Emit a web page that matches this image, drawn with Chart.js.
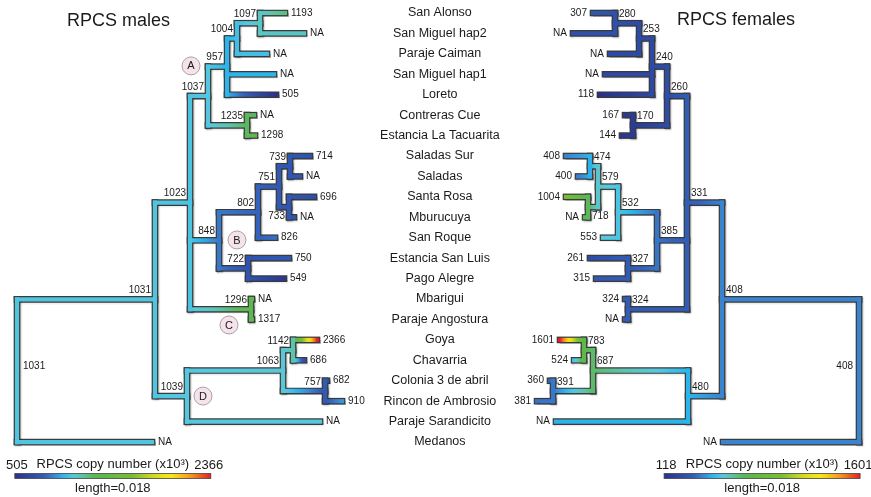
<!DOCTYPE html>
<html>
<head>
<meta charset="utf-8">
<script src="https://cdn.jsdelivr.net/npm/chart.js@4.4.1/dist/chart.umd.min.js"></script>
<style>
  html, body { margin: 0; padding: 0; background: #fff; }
  #wrap { width: 871px; height: 497px; position: relative; }
</style>
</head>
<body>
<div id="wrap"><canvas id="treeChart"></canvas></div>
<script>
// sampling sites, top to bottom (shared by both trees)
const taxa = ['San Alonso', 'San Miguel hap2', 'Paraje Caiman', 'San Miguel hap1', 'Loreto',
  'Contreras Cue', 'Estancia La Tacuarita', 'Saladas Sur', 'Saladas', 'Santa Rosa', 'Mburucuya',
  'San Roque', 'Estancia San Luis', 'Pago Alegre', 'Mbarigui', 'Paraje Angostura', 'Goya',
  'Chavarria', 'Colonia 3 de abril', 'Rincon de Ambrosio', 'Paraje Sarandicito', 'Medanos'];

// males: RPCS copy number at tips (x10^3), null = NA
const maleTipValues = [1193, null, null, null, 505, null, 1298, 714, null, 696, null,
  826, 750, 549, null, 1317, 2366, 686, 682, 910, null, null];
// males: tip distance from root
const maleTipDepths = [0.02461, 0.02636, 0.02296, 0.02360, 0.02379, 0.02177, 0.02186, 0.02691,
  0.02599, 0.02728, 0.02544, 0.02370, 0.02498, 0.02452, 0.02158, 0.02158, 0.02755, 0.02636,
  0.02847, 0.02985, 0.02783, 0.01240];
// males: internal nodes [id, children (tip index or node id), value, depth]
const maleNodes = [
  ['m1097', [0, 1], 1097, 0.02232],
  ['m1004', ['m1097', 2], 1004, 0.02020],
  ['m957', ['m1004', 3, 4], 957, 0.01929],
  ['m1235', [5, 6], 1235, 0.02112],
  ['m1037', ['m957', 'm1235'], 1037, 0.01754],
  ['m739', [7, 8], 739, 0.02507],
  ['m733', [9, 10], 733, 0.02498],
  ['m751', ['m739', 'm733'], 751, 0.02406],
  ['m802', ['m751', 11], 802, 0.02213],
  ['m722', [12, 13], 722, 0.02122],
  ['m848', ['m802', 'm722'], 848, 0.01855],
  ['m1296', [14, 15], 1296, 0.02149],
  ['m1023', ['m1037', 'm848', 'm1296'], 1023, 0.01589],
  ['m1142', [16, 17], 1142, 0.02535],
  ['m757', [18, 19], 757, 0.02829],
  ['m1063', ['m1142', 'm757'], 1063, 0.02443],
  ['m1039', ['m1063', 20], 1039, 0.01561],
  ['m1031', ['m1023', 'm1039'], 1031, 0.01267],
  ['mRoot', ['m1031', 21], 1031, 0]
];
const maleRange = [505, 2366];

// females
const femaleTipValues = [307, null, null, null, 118, 167, 144, 408, 400, 1004, null,
  553, 261, 315, 324, null, 1601, 524, 360, 381, null, null];
const femaleTipDepths = [0.02443, 0.02627, 0.02287, 0.02333, 0.02379, 0.02149, 0.02177, 0.02691,
  0.02581, 0.02691, 0.02516, 0.02351, 0.02471, 0.02415, 0.02149, 0.02149, 0.02746, 0.02617,
  0.02838, 0.02957, 0.02783, 0.01249];
const femaleNodes = [
  ['f280', [0, 1], 280, 0.02241],
  ['f253', ['f280', 2], 253, 0.02020],
  ['f240', ['f253', 3, 4], 240, 0.01901],
  ['f170', [5, 6], 170, 0.02076],
  ['f260', ['f240', 'f170'], 260, 0.01763],
  ['f474', [7, 8], 474, 0.02471],
  ['f718', [9, 10], 718, 0.02489],
  ['f579', ['f474', 'f718'], 579, 0.02397],
  ['f532', ['f579', 11], 532, 0.02213],
  ['f327', [12, 13], 327, 0.02122],
  ['f385', ['f532', 'f327'], 385, 0.01855],
  ['f324', [14, 15], 324, 0.02122],
  ['f331', ['f260', 'f385', 'f324'], 331, 0.01580],
  ['f783', [16, 17], 783, 0.02526],
  ['f391', [18, 19], 391, 0.02810],
  ['f687', ['f783', 'f391'], 687, 0.02443],
  ['f480', ['f687', 20], 480, 0.01570],
  ['f408', ['f331', 'f480'], 408, 0.01258],
  ['fRoot', ['f408', 21], 408, 0]
];
const femaleRange = [118, 1601];

// node labels that sit under their branch instead of above
const labelsBelow = ['m733', 'f718'];

// clade markers on the male tree
const cladeLetters = ['A', 'B', 'C', 'D'];
const cladeDepths = [0.01598, 0.02020, 0.01947, 0.01708];
const cladeRows = [2.59, 11.11, 15.27, 18.75];

const barLength = 0.018;
const FONT = 'Arial, "Liberation Sans", Helvetica, sans-serif';

// colour ramp for copy number
const ramp = [
  [0.00, [40, 50, 140]], [0.10, [46, 78, 168]], [0.16, [52, 98, 186]], [0.20, [58, 135, 210]],
  [0.245, [44, 182, 236]], [0.29, [88, 200, 222]], [0.34, [92, 196, 176]], [0.39, [92, 184, 96]],
  [0.45, [94, 184, 72]], [0.60, [120, 190, 50]], [0.72, [220, 222, 30]], [0.80, [248, 230, 24]],
  [0.90, [243, 150, 30]], [1.00, [228, 30, 36]]
];
function rampColor(t) {
  t = Math.max(0, Math.min(1, t));
  for (let i = 1; i < ramp.length; i++) {
    if (t <= ramp[i][0]) {
      const [t0, c0] = ramp[i - 1], [t1, c1] = ramp[i];
      const f = (t - t0) / (t1 - t0);
      const c = c0.map((v, k) => Math.round(v + (c1[k] - v) * f));
      return `rgb(${c[0]},${c[1]},${c[2]})`;
    }
  }
  return 'rgb(228,30,36)';
}

function buildTree(nodes, tipDepths, tipValues, range, axisId) {
  const col = (v) => rampColor((v - range[0]) / (range[1] - range[0]));
  const info = {};
  const segs = [];
  const labels = [];
  const rootId = nodes[nodes.length - 1][0];
  nodes.forEach(([id, kids, value, depth]) => {
    const rows = kids.map((k) => (typeof k === 'number' ? k : info[k].row));
    const row = (Math.min(...rows) + Math.max(...rows)) / 2;
    info[id] = { row, value, depth };
    segs.push({ x0: depth, x1: depth, y0: Math.min(...rows), y1: Math.max(...rows), v0: value, v1: value });
    kids.forEach((k) => {
      let child;
      if (typeof k === 'number') {
        child = { row: k, depth: tipDepths[k], value: tipValues[k] ?? value };
        labels.push({ kind: 'tip', x: tipDepths[k], y: k, text: tipValues[k] == null ? 'NA' : String(tipValues[k]) });
      } else {
        child = info[k];
      }
      segs.push({ x0: depth, x1: child.depth, y0: child.row, y1: child.row, v0: value, v1: child.value });
    });
    labels.push({
      kind: id === rootId ? 'root' : 'node', x: depth, y: row, text: String(value),
      below: labelsBelow.includes(id)
    });
  });

  const datasets = [];
  segs.forEach((s) => {
    const pts = [{ x: s.x0, y: s.y0 }, { x: s.x1, y: s.y1 }];
    datasets.push({
      data: pts, showLine: true, pointRadius: 0, borderWidth: 6.6, borderColor: '#3a3a3a',
      borderCapStyle: 'square', xAxisID: axisId, yAxisID: 'y', order: 3, outline: true
    });
    datasets.push({
      data: pts, showLine: true, pointRadius: 0, borderWidth: 4.2, borderCapStyle: 'square',
      xAxisID: axisId, yAxisID: 'y', order: 2,
      borderColor: (c) => {
        const chart = c.chart;
        const sc = chart.scales[axisId];
        if (!chart.chartArea || !sc || s.v0 === s.v1 || s.x0 === s.x1) return col(s.v1);
        const p0 = sc.getPixelForValue(s.x0), p1 = sc.getPixelForValue(s.x1);
        const g = chart.ctx.createLinearGradient(p0, 0, p1, 0);
        for (let k = 0; k <= 12; k++) g.addColorStop(k / 12, col(s.v0 + (s.v1 - s.v0) * k / 12));
        return g;
      }
    });
  });
  return { datasets, labels };
}

const male = buildTree(maleNodes, maleTipDepths, maleTipValues, maleRange, 'x');
const female = buildTree(femaleNodes, femaleTipDepths, femaleTipValues, femaleRange, 'x2');

const cladeSet = {
  data: cladeLetters.map((l, i) => ({ x: cladeDepths[i], y: cladeRows[i] })),
  pointRadius: 9, backgroundColor: '#f6e2ea', borderColor: '#a8a0a4', borderWidth: 1,
  xAxisID: 'x', yAxisID: 'y', order: 1
};

// soft drop shadow under the dark branch outlines
const branchShadow = {
  id: 'branchShadow',
  beforeDatasetDraw(chart, args) {
    if (!chart.data.datasets[args.index].outline) return;
    const ctx = chart.ctx;
    ctx.save();
    ctx.shadowColor = 'rgba(0,0,0,0.28)';
    ctx.shadowOffsetX = 1;
    ctx.shadowOffsetY = 1;
    ctx.shadowBlur = 1.5;
  },
  afterDatasetDraw(chart, args) {
    if (chart.data.datasets[args.index].outline) chart.ctx.restore();
  }
};

function rampBar(ctx, a, b, y, h) {
  const g = ctx.createLinearGradient(a, 0, b, 0);
  for (let k = 0; k <= 20; k++) g.addColorStop(k / 20, rampColor(k / 20));
  ctx.fillStyle = g;
  ctx.fillRect(Math.min(a, b), y, Math.abs(b - a), h);
  ctx.strokeStyle = '#444';
  ctx.lineWidth = 0.8;
  ctx.strokeRect(Math.min(a, b), y, Math.abs(b - a), h);
}

const treeText = {
  id: 'treeText',
  afterDatasetsDraw(chart) {
    const ctx = chart.ctx;
    const ys = chart.scales.y;
    ctx.save();
    ctx.fillStyle = '#1a1a1a';
    ctx.textBaseline = 'middle';

    // tip / node labels
    [[male.labels, chart.scales.x, 1], [female.labels, chart.scales.x2, -1]].forEach(([labs, xs, dir]) => {
      ctx.font = `10px ${FONT}`;
      labs.forEach((l) => {
        const px = xs.getPixelForValue(l.x), py = ys.getPixelForValue(l.y);
        if (l.kind === 'tip') {
          ctx.textAlign = dir > 0 ? 'left' : 'right';
          ctx.fillText(l.text, px + dir * 6, py);
        } else if (l.kind === 'root') {
          ctx.textAlign = dir > 0 ? 'left' : 'right';
          ctx.fillText(l.text, px + dir * 6, py - 4);
        } else {
          ctx.textAlign = dir > 0 ? 'right' : 'left';
          ctx.fillText(l.text, px - dir * 4, py + (l.below ? 9 : -9));
        }
      });
    });

    // site names in the middle
    ctx.font = `12.5px ${FONT}`;
    ctx.textAlign = 'center';
    const midX = chart.width * 0.505;
    taxa.forEach((t, i) => ctx.fillText(t, midX, ys.getPixelForValue(i)));

    // clade letters
    ctx.font = `11px ${FONT}`;
    const xm = chart.scales.x;
    cladeLetters.forEach((l, i) => ctx.fillText(l, xm.getPixelForValue(cladeDepths[i]), ys.getPixelForValue(cladeRows[i]) + 0.5));

    // titles
    ctx.font = `18px ${FONT}`;
    ctx.textAlign = 'left';
    ctx.fillText('RPCS males', 67, 21);
    ctx.fillText('RPCS females', 677, 20);

    // colour bars, one scale length wide
    const bars = [
      [chart.scales.x, -0.0002, maleRange],
      [chart.scales.x2, -0.0001, femaleRange]
    ];
    bars.forEach(([xs, start, range]) => {
      const a = xs.getPixelForValue(start), b = xs.getPixelForValue(start + barLength);
      const lo = Math.min(a, b), hi = Math.max(a, b);
      rampBar(ctx, lo, hi, 473.5, 5);
      ctx.fillStyle = '#1a1a1a';
      ctx.font = `13px ${FONT}`;
      ctx.textAlign = 'center';
      ctx.fillText(String(range[0]), lo + 2, 465);
      ctx.fillText(String(range[1]), hi - 2, 465);
      ctx.fillText('RPCS copy number (x10³)', (lo + hi) / 2, 464);
      ctx.fillText('length=0.018', (lo + hi) / 2, 488);
    });
    ctx.restore();
  }
};

new Chart(document.getElementById('treeChart'), {
  type: 'scatter',
  data: { datasets: [...male.datasets, ...female.datasets, cladeSet] },
  options: {
    responsive: true,
    maintainAspectRatio: false,
    animation: false,
    events: [],
    layout: { padding: 0, autoPadding: false },
    plugins: { legend: { display: false }, tooltip: { enabled: false } },
    scales: {
      x: { type: 'linear', display: false, min: -0.001561, max: 0.07843 },
      x2: { type: 'linear', display: false, reverse: true, min: -0.001102, max: 0.07889 },
      y: { type: 'linear', display: false, reverse: true, min: -0.636, max: 23.69 }
    }
  },
  plugins: [branchShadow, treeText]
});
</script>
</body>
</html>
